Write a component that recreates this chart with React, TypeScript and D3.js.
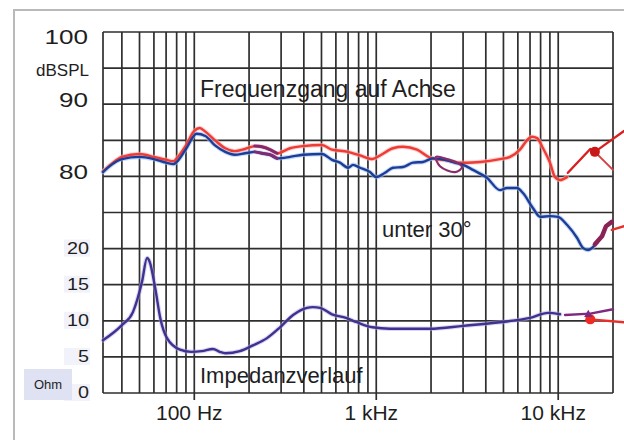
import { useEffect, useRef } from "react";
import * as d3 from "d3";

// on-axis response (red)
const onAxisFreq = [31.5, 35, 40, 50, 60, 70, 77, 80, 90, 100, 107, 115, 130, 148, 167, 190, 215, 235, 261, 285, 336, 396, 503, 571, 700, 745, 814, 953, 1049, 1236, 1403, 1675, 1970, 2130, 2480, 2810, 3150, 3720, 4790, 5430, 6160, 6730, 7180, 7650, 8250, 9010, 9600, 10230, 11170];
const onAxisSpl = [80.7, 81.7, 82.7, 83.1, 82.7, 82.3, 82.1, 82.5, 84.3, 86.3, 86.7, 86.2, 85.0, 83.9, 83.5, 83.8, 84.2, 84.1, 83.7, 83.2, 83.9, 84.2, 84.35, 83.7, 83.4, 83.2, 82.9, 82.4, 82.9, 83.9, 84.1, 83.7, 82.6, 82.4, 82.2, 81.9, 81.9, 82.0, 82.4, 82.7, 83.7, 85.0, 85.5, 85.3, 83.9, 81.9, 79.9, 79.5, 79.9];

// 30 degrees off axis (blue)
const offAxisFreq = [31.5, 35, 40, 50, 60, 70, 77, 80, 90, 103, 115, 130, 148, 167, 190, 215, 235, 261, 285, 336, 396, 503, 571, 632, 700, 745, 814, 924, 1000, 1117, 1236, 1403, 1592, 1807, 2050, 2480, 2810, 3000, 3400, 4060, 4790, 5230, 5930, 6400, 7270, 7940, 9010, 9970, 11170, 12680, 13680, 14580, 16330];
const offAxisSpl = [80.6, 81.6, 82.4, 82.7, 82.4, 81.9, 81.7, 82.0, 83.8, 85.9, 85.6, 84.3, 83.4, 83.0, 83.2, 83.4, 83.2, 83.0, 82.5, 82.7, 83.0, 83.1, 82.3, 81.9, 81.2, 81.6, 81.2, 80.6, 79.9, 80.5, 81.2, 81.3, 81.9, 82.0, 82.5, 82.2, 81.8, 81.6, 80.9, 79.8, 78.1, 78.4, 78.4, 77.7, 75.6, 74.4, 74.5, 74.4, 73.3, 71.5, 70.1, 69.8, 70.8];

// impedance (Ohm)
const impFreq = [31.5, 40, 46, 51.6, 55, 57, 61, 65, 70.8, 83.5, 96, 110, 126.7, 138, 148, 178, 210, 251, 296, 349, 416, 449, 491, 571, 682, 783, 953, 1190, 1970, 3000, 4790, 7000, 8790, 10230];
const impOhm = [7.3, 9.4, 11.2, 15.4, 18.7, 18.1, 14.5, 10.4, 7.6, 6.0, 5.7, 5.8, 6.1, 5.7, 5.5, 5.8, 6.6, 7.6, 9.1, 10.8, 11.8, 11.9, 11.8, 10.9, 10.4, 9.8, 9.1, 8.9, 8.9, 9.3, 9.8, 10.4, 11.1, 10.9];

// hand-drawn marks
const loopFreq = [2130, 2450, 2780, 2960, 2720, 2240];
const loopSpl = [82.7, 82.4, 81.9, 81.3, 80.6, 81.4];
const purpleRange = [210, 290];
const redTopFreq = [11300, 15000, 15900, 20000, 23000];
const redTopSpl = [80.5, 83.8, 83.4, 85.2, 86.3];
const redBranchFreq = [15900, 20000];
const redBranchSpl = [83.4, 80.9];
const purpleMidFreq = [15900, 17400, 18300, 19700];
const purpleMidSpl = [70.6, 71.7, 73.1, 73.7];
const redMidFreq = [19700, 23000];
const redMidSpl = [72.6, 73.1];
const purpleImpFreq = [10900, 15000, 20000];
const purpleImpOhm = [10.8, 11.0, 11.6];
const redImpFreq = [15000, 23000];
const redImpOhm = [10.2, 9.8];

// grid and labels
const gridFreqs = [40, 50, 60, 70, 80, 90, 100, 200, 300, 400, 500, 600, 700, 800, 900, 1000, 2000, 3000, 4000, 5000, 6000, 7000, 8000, 9000, 10000, 20000];
const majorFreqs = [100, 1000, 10000];
const freqLabels = ["100 Hz", "1 kHz", "10 kHz"];
const splGrid = [50, 55, 60, 65, 70, 75, 80, 85, 90, 95, 100];
const splTicks = [100, 90, 80];
const ohmTicks = [20, 15, 10, 5, 0];

const FONT = "'Liberation Sans', Arial, sans-serif";

function App() {
  const ref = useRef<SVGSVGElement>(null);

  useEffect(() => {
    const svg = d3.select(ref.current);
    svg.selectAll("*").remove();

    const x = d3.scaleLog().domain([31.5, 20000]).range([103, 613]);
    const yS = d3.scaleLinear().domain([50, 100]).range([393, 32]);
    const yZ = d3.scaleLinear().domain([0, 50]).range([393, 32]);

    svg.append("rect").attr("width", 624).attr("height", 440).attr("fill", "#ffffff");
    svg.append("path")
      .attr("d", "M14,440V10H624")
      .attr("fill", "none")
      .attr("stroke", "#b9b9b9")
      .attr("stroke-width", 2);

    // grid
    const grid = svg.append("g").attr("stroke", "#2e2e2e").attr("stroke-width", 1.7);
    grid.selectAll("line.h")
      .data(splGrid)
      .enter()
      .append("line")
      .attr("x1", x(31.5))
      .attr("x2", x(20000))
      .attr("y1", (d) => yS(d))
      .attr("y2", (d) => yS(d));
    grid.selectAll("line.v")
      .data([31.5, ...gridFreqs])
      .enter()
      .append("line")
      .attr("x1", (d) => x(d))
      .attr("x2", (d) => x(d))
      .attr("y1", yS(100))
      .attr("y2", (d) => (majorFreqs.includes(d) ? yS(50) + 7 : yS(50)));

    const zip = (f: number[], v: number[]) => f.map((d, i) => [d, v[i]] as [number, number]);
    const lineS = d3.line<[number, number]>().x((d) => x(d[0])).y((d) => yS(d[1])).curve(d3.curveMonotoneX);
    const lineZ = d3.line<[number, number]>().x((d) => x(d[0])).y((d) => yZ(d[1])).curve(d3.curveMonotoneX);
    const straightS = d3.line<[number, number]>().x((d) => x(d[0])).y((d) => yS(d[1]));
    const straightZ = d3.line<[number, number]>().x((d) => x(d[0])).y((d) => yZ(d[1]));

    const draw = (d: string | null, color: string, w: number) =>
      svg.append("path")
        .attr("d", d)
        .attr("fill", "none")
        .attr("stroke", color)
        .attr("stroke-width", w)
        .attr("stroke-linejoin", "round")
        .attr("stroke-linecap", "round");

    const red = zip(onAxisFreq, onAxisSpl);
    const blue = zip(offAxisFreq, offAxisSpl);
    const inPurple = (d: [number, number]) => d[0] >= purpleRange[0] && d[0] <= purpleRange[1];

    draw(lineS(red), "#ffb3ad", 4.5).attr("opacity", 0.6);
    draw(lineS(blue), "#9fc2ee", 4.5).attr("opacity", 0.6);
    draw(lineS(red), "#ee3b36", 2.4);
    draw(lineS(blue), "#1d3c98", 2.4);
    draw(lineS(red.filter(inPurple)), "#7f2a72", 3);
    draw(lineS(blue.filter(inPurple)), "#7f2a72", 3);

    const loop = d3.line<[number, number]>()
      .x((d) => x(d[0]))
      .y((d) => yS(d[1]))
      .curve(d3.curveCatmullRomClosed);
    draw(loop(zip(loopFreq, loopSpl)), "#8a2e6a", 2.2);

    draw(lineZ(zip(impFreq, impOhm)), "#b6aee0", 4.5).attr("opacity", 0.5);
    draw(lineZ(zip(impFreq, impOhm)), "#3e3192", 2.4);

    // hand marks on the right
    draw(straightS(zip(redTopFreq, redTopSpl)), "#d81e1e", 2.4);
    draw(straightS(zip(redBranchFreq, redBranchSpl)), "#d84040", 2);
    draw(straightS(zip(purpleMidFreq, purpleMidSpl)), "#8a2257", 4.5);
    draw(straightS(zip(redMidFreq, redMidSpl)), "#e8302a", 2.4);
    draw(straightZ(zip(purpleImpFreq, purpleImpOhm)), "#7d2a80", 2.4);
    draw(straightZ(zip(redImpFreq, redImpOhm)), "#e8302a", 2.4);
    svg.append("circle")
      .attr("cx", x(redBranchFreq[0]))
      .attr("cy", yS(redBranchSpl[0]))
      .attr("r", 5)
      .attr("fill", "#c81818");
    svg.append("circle")
      .attr("cx", x(redImpFreq[0]))
      .attr("cy", yZ(redImpOhm[0]))
      .attr("r", 5)
      .attr("fill", "#ee2a22");
    svg.append("path")
      .attr("d", d3.symbol(d3.symbolTriangle, 30)())
      .attr("transform", `translate(${x(purpleImpFreq[1]) - 2},${yZ(purpleImpOhm[1]) + 1})`)
      .attr("fill", "#7d2a80");

    // labels
    const txt = svg.append("g").attr("font-family", FONT).attr("fill", "#1e1e1e");
    txt.selectAll("text.spl")
      .data(splTicks)
      .enter()
      .append("text")
      .attr("x", 88)
      .attr("y", (d) => Math.max(yS(d) + 3, 44))
      .attr("text-anchor", "end")
      .attr("font-size", 20)
      .attr("textLength", (d) => String(d).length * 14.5)
      .attr("lengthAdjust", "spacingAndGlyphs")
      .text((d) => d);
    txt.append("text")
      .attr("x", 89)
      .attr("y", 76)
      .attr("text-anchor", "end")
      .attr("font-size", 17)
      .text("dBSPL");

    txt.selectAll("rect.ohm")
      .data(ohmTicks)
      .enter()
      .append("rect")
      .attr("x", 64)
      .attr("y", (d) => yZ(d) - 9)
      .attr("width", 26)
      .attr("height", 17)
      .attr("fill", "#f2f3fa");
    txt.append("rect")
      .attr("x", 24)
      .attr("y", 369)
      .attr("width", 48)
      .attr("height", 31)
      .attr("fill", "#dfe2f2");
    txt.append("text")
      .attr("x", 48)
      .attr("y", 389)
      .attr("text-anchor", "middle")
      .attr("font-size", 13)
      .text("Ohm");
    txt.selectAll("text.ohm")
      .data(ohmTicks)
      .enter()
      .append("text")
      .attr("x", 89)
      .attr("y", (d) => yZ(d) + 5)
      .attr("text-anchor", "end")
      .attr("font-size", 17)
      .attr("textLength", (d) => String(d).length * 11)
      .attr("lengthAdjust", "spacingAndGlyphs")
      .text((d) => d);

    txt.selectAll("text.freq")
      .data(majorFreqs)
      .enter()
      .append("text")
      .attr("x", (d) => x(d) - 5)
      .attr("y", 420)
      .attr("text-anchor", "middle")
      .attr("font-size", 21)
      .text((d, i) => freqLabels[i]);

    txt.append("text").attr("x", 200).attr("y", 97).attr("font-size", 23).text("Frequenzgang auf Achse");
    txt.append("text").attr("x", 382).attr("y", 237).attr("font-size", 22).text("unter 30°");
    txt.append("text").attr("x", 200).attr("y", 383).attr("font-size", 22).text("Impedanzverlauf");
  }, []);

  return (
    <div style={{ position: "absolute", left: 0, top: 0 }}>
      <svg ref={ref} width={624} height={440} style={{ display: "block" }}></svg>
    </div>
  );
}

export default App;
